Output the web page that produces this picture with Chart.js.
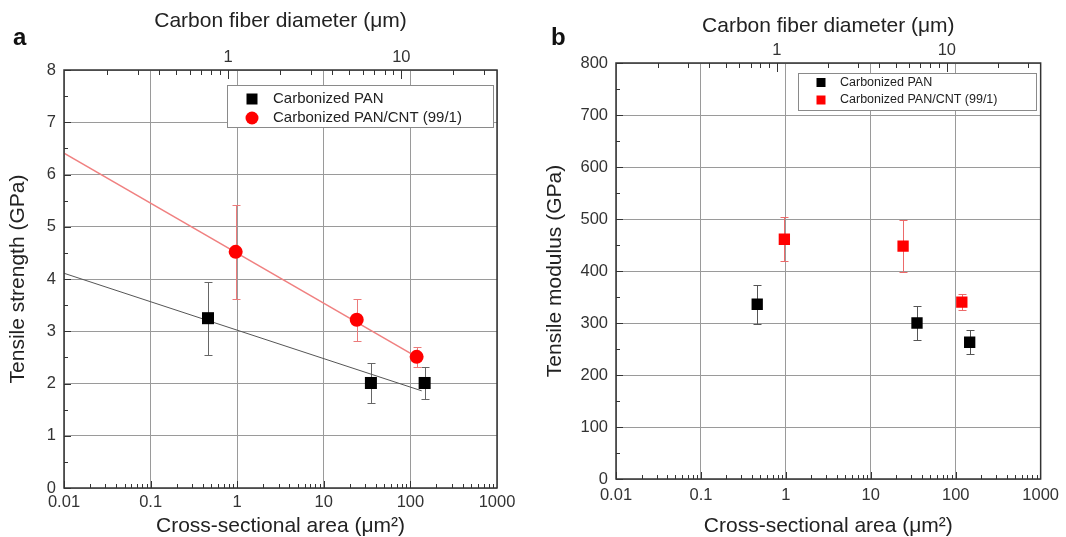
<!DOCTYPE html>
<html>
<head>
<meta charset="utf-8">
<script src="https://cdn.jsdelivr.net/npm/chart.js@4.4.1/dist/chart.umd.min.js"></script>
<style>
  html, body { margin: 0; padding: 0; background: #fff; }
  #wrap { position: relative; width: 1066px; height: 537px; }
  canvas { position: absolute; top: 0; }
</style>
</head>
<body>
<div id="wrap">
  <canvas id="chartA" width="533" height="537" style="left:0"></canvas>
  <canvas id="chartB" width="533" height="537" style="left:533px"></canvas>
</div>
<script>
// cross-sectional area (um^2) of each fiber group
const areaPan = [0.46, 35, 146];
const areaCnt = [0.96, 24, 118];

// tensile strength (GPa)
const strengthPan = [3.25, 2.01, 2.01];
const strengthPanErr = [0.70, 0.39, 0.30];
const strengthCnt = [4.52, 3.22, 2.51];
const strengthCntErr = [0.90, 0.40, 0.19];

const fitPanArea = [0.01, 135];
const fitPanStrength = [4.11, 1.86];
const fitCntArea = [0.01, 118];
const fitCntStrength = [6.41, 2.51];

// tensile modulus (GPa)
const modulusPan = [336, 300, 263];
const modulusPanErr = [37, 33, 23];
const modulusCnt = [461, 448, 340];
const modulusCntErr = [42, 50, 15];

const areaTicks = [0.01, 0.1, 1, 10, 100, 1000];
const areaTickLabels = ['0.01', '0.1', '1', '10', '100', '1000'];
const diameterTicks = [1, 10];
const diameterTickLabels = ['1', '10'];
const seriesLabels = ['Carbonized PAN', 'Carbonized PAN/CNT (99/1)'];

const FONT = "'Liberation Sans', Arial, sans-serif";
Chart.defaults.font.family = FONT;

// diameter axis covers the same span as the area axis (A = pi d^2 / 4)
const dMin = Math.sqrt(4 * 0.01 / Math.PI);
const dMax = Math.sqrt(4 * 1000 / Math.PI);

function pts(xs, ys) {
  return xs.map((x, i) => ({ x: x, y: ys[i] }));
}

const framePlugin = {
  id: 'frame',
  beforeDatasetsDraw(chart) {
    const { ctx, scales: { x, y } } = chart;
    ctx.save();
    ctx.lineWidth = 1;
    chart.data.datasets.forEach(ds => {
      if (!ds.errors) return;
      ctx.strokeStyle = ds.errorColor;
      ctx.beginPath();
      ds.data.forEach((p, j) => {
        const px = Math.round(x.getPixelForValue(p.x)) + 0.5;
        const hi = Math.round(y.getPixelForValue(p.y + ds.errors[j])) + 0.5;
        const lo = Math.round(y.getPixelForValue(p.y - ds.errors[j])) + 0.5;
        ctx.moveTo(px, hi); ctx.lineTo(px, lo);
        ctx.moveTo(px - 4, hi); ctx.lineTo(px + 4, hi);
        ctx.moveTo(px - 4, lo); ctx.lineTo(px + 4, lo);
      });
      ctx.stroke();
    });
    ctx.restore();
  },
  afterDatasetsDraw(chart, args, o) {
    const { ctx, chartArea: a, scales: { x, x2, y } } = chart;
    ctx.save();

    // inward tick marks
    ctx.strokeStyle = '#333';
    ctx.lineWidth = 1;
    ctx.beginPath();
    for (let k = -2; k < 3; k++) {
      for (let m = 1; m < 10; m++) {
        const px = Math.round(x.getPixelForValue(m * Math.pow(10, k))) + 0.5;
        ctx.moveTo(px, a.bottom);
        ctx.lineTo(px, a.bottom - (m === 1 ? 7 : 4));
      }
    }
    for (let k = -1; k < 2; k++) {
      for (let m = 1; m < 10; m++) {
        const d = m * Math.pow(10, k);
        if (d < x2.min || d > x2.max) continue;
        const px = Math.round(x2.getPixelForValue(d)) + 0.5;
        ctx.moveTo(px, a.top);
        ctx.lineTo(px, a.top + (m === 1 ? 9 : 5));
      }
    }
    const n = Math.round(y.max / o.yMinor);
    for (let i = 0; i <= n; i++) {
      const py = Math.round(y.getPixelForValue(i * o.yMinor)) + 0.5;
      ctx.moveTo(a.left, py);
      ctx.lineTo(a.left + (i % 2 ? 4 : 7), py);
    }
    ctx.stroke();

    // plot frame
    ctx.strokeStyle = '#333';
    ctx.lineWidth = 1.5;
    ctx.strokeRect(a.left, a.top, a.right - a.left, a.bottom - a.top);

    // legend
    const L = o.legend;
    ctx.fillStyle = '#fff';
    ctx.fillRect(L.left, L.top, L.width, L.height);
    ctx.strokeStyle = '#8a8a8a';
    ctx.lineWidth = 1;
    ctx.strokeRect(L.left + 0.5, L.top + 0.5, L.width, L.height);
    ctx.font = L.fontSize + 'px ' + FONT;
    ctx.textBaseline = 'middle';
    ctx.textAlign = 'left';
    chart.data.datasets.filter(ds => ds.isSeries).forEach((ds, i) => {
      const cy = L.top + L.firstRow + i * L.rowGap;
      ctx.fillStyle = ds.backgroundColor;
      ctx.beginPath();
      if (ds.pointStyle === 'circle') {
        ctx.arc(L.markerX, cy, L.circleR, 0, Math.PI * 2);
      } else {
        ctx.rect(L.markerX - L.square / 2, cy - L.square / 2, L.square, L.square);
      }
      ctx.fill();
      ctx.fillStyle = '#222';
      ctx.fillText(ds.label, L.textX, cy);
    });

    // panel letter
    ctx.fillStyle = '#111';
    ctx.font = 'bold 24px ' + FONT;
    ctx.fillText(o.letter, o.letterX, o.letterY);
    ctx.restore();
  }
};

function buildChart(id, o) {
  const tickFont = { size: 16.5 };
  const titleFont = { size: 21, lineHeight: 1 };
  return new Chart(document.getElementById(id), {
    type: 'scatter',
    data: { datasets: o.datasets },
    options: {
      responsive: false,
      animation: false,
      events: [],
      layout: { padding: { left: 0, right: o.padRight, top: 0, bottom: 0 } },
      plugins: {
        legend: { display: false },
        tooltip: { enabled: false },
        frame: o.frame
      },
      scales: {
        x: {
          type: 'logarithmic',
          position: 'bottom',
          min: 0.01,
          max: 1000,
          afterBuildTicks: s => { s.ticks = areaTicks.map(v => ({ value: v })); },
          afterFit: s => { s.height = o.bottomH; },
          ticks: {
            callback: (v, i) => areaTickLabels[i],
            padding: o.xPad, color: '#333', font: tickFont,
            maxRotation: 0, autoSkip: false
          },
          grid: { color: '#9a9a9a', lineWidth: 1, drawTicks: false },
          border: { display: false },
          title: {
            display: true, text: 'Cross-sectional area (μm²)', color: '#222',
            font: titleFont, padding: { top: 0, bottom: o.xTitlePad }
          }
        },
        x2: {
          type: 'logarithmic',
          position: 'top',
          min: dMin,
          max: dMax,
          afterBuildTicks: s => { s.ticks = diameterTicks.map(v => ({ value: v })); },
          afterFit: s => { s.height = o.topH; },
          ticks: {
            callback: (v, i) => diameterTickLabels[i],
            padding: o.x2Pad, color: '#333', font: tickFont,
            maxRotation: 0, autoSkip: false
          },
          grid: { drawOnChartArea: false, drawTicks: false },
          border: { display: false },
          title: {
            display: true, text: 'Carbon fiber diameter (μm)', color: '#222',
            font: titleFont, padding: { top: o.x2TitlePad, bottom: 0 }
          }
        },
        y: {
          type: 'linear',
          min: 0,
          max: o.yMax,
          afterFit: s => { s.width = o.leftW; },
          ticks: { stepSize: o.yStep, padding: 8, color: '#333', font: tickFont },
          grid: { color: '#9a9a9a', lineWidth: 1, drawTicks: false },
          border: { display: false },
          title: {
            display: true, text: o.yTitle, color: '#222',
            font: titleFont, padding: { top: o.yTitlePad, bottom: 0 }
          }
        }
      }
    },
    plugins: [framePlugin]
  });
}

buildChart('chartA', {
  datasets: [
    { label: seriesLabels[0], data: pts(areaPan, strengthPan), errors: strengthPanErr,
      errorColor: '#666', pointStyle: 'rect', pointRadius: 8.5, backgroundColor: '#000',
      borderColor: '#000', borderWidth: 0, order: 1, isSeries: true },
    { label: seriesLabels[1], data: pts(areaCnt, strengthCnt), errors: strengthCntErr,
      errorColor: '#ec7a7a', pointStyle: 'circle', pointRadius: 7, backgroundColor: '#ff0000',
      borderColor: '#ff0000', borderWidth: 0, order: 0, isSeries: true },
    { label: 'fit PAN', data: pts(fitPanArea, fitPanStrength), showLine: true, pointRadius: 0,
      borderColor: '#555', borderWidth: 1, order: 3 },
    { label: 'fit PAN/CNT', data: pts(fitCntArea, fitCntStrength), showLine: true, pointRadius: 0,
      borderColor: '#f08080', borderWidth: 1.5, order: 2 }
  ],
  padRight: 36, leftW: 64, topH: 70, bottomH: 49,
  xPad: 5, x2Pad: 3, xTitlePad: 0, x2TitlePad: 11, yTitlePad: 8,
  yMax: 8, yStep: 1, yTitle: 'Tensile strength (GPa)',
  frame: {
    yMinor: 0.5, letter: 'a', letterX: 13, letterY: 38,
    legend: { left: 227, top: 85, width: 266, height: 42, firstRow: 14, rowGap: 19,
      markerX: 252, textX: 273, square: 11, circleR: 6.5, fontSize: 15 }
  }
});

buildChart('chartB', {
  datasets: [
    { label: seriesLabels[0], data: pts(areaPan, modulusPan), errors: modulusPanErr,
      errorColor: '#555', pointStyle: 'rect', pointRadius: 8, backgroundColor: '#000',
      borderColor: '#000', borderWidth: 0, order: 1, isSeries: true },
    { label: seriesLabels[1], data: pts(areaCnt, modulusCnt), errors: modulusCntErr,
      errorColor: '#ec6a6a', pointStyle: 'rect', pointRadius: 8, backgroundColor: '#ff0000',
      borderColor: '#ff0000', borderWidth: 0, order: 0, isSeries: true }
  ],
  padRight: 18, leftW: 83, topH: 63, bottomH: 58,
  xPad: 7, x2Pad: 3, xTitlePad: 0, x2TitlePad: 16, yTitlePad: 11.5,
  yMax: 800, yStep: 100, yTitle: 'Tensile modulus (GPa)',
  frame: {
    yMinor: 50, letter: 'b', letterX: 18, letterY: 38,
    legend: { left: 265, top: 73, width: 238, height: 37, firstRow: 9.5, rowGap: 17.5,
      markerX: 288, textX: 307, square: 9, circleR: 5, fontSize: 12.5 }
  }
});
</script>
</body>
</html>
